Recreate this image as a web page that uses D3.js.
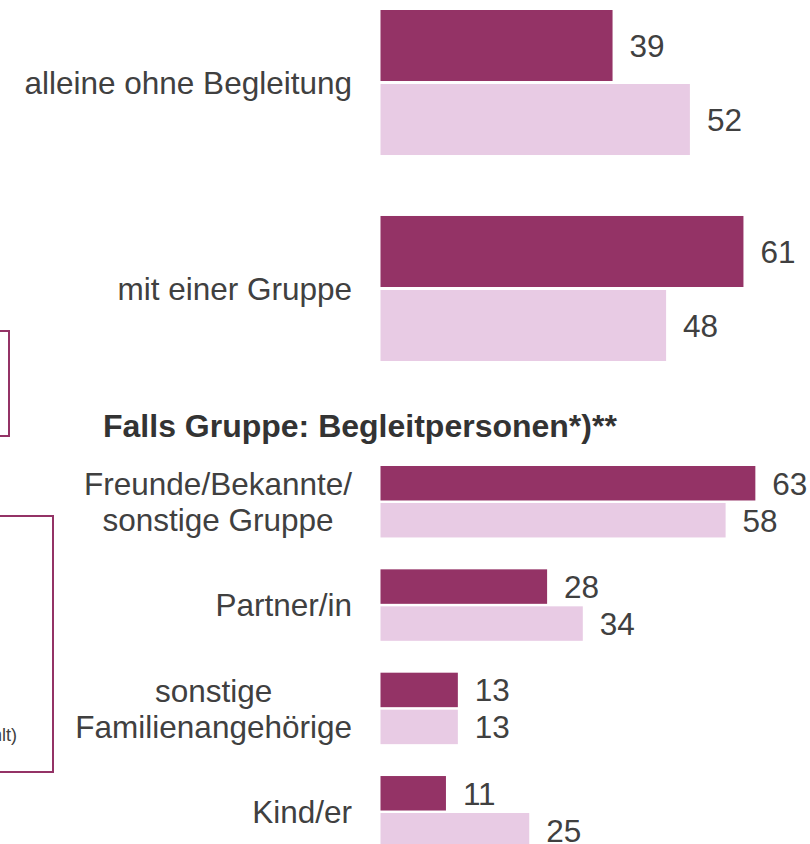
<!DOCTYPE html>
<html>
<head>
<meta charset="utf-8">
<script src="https://cdn.jsdelivr.net/npm/d3@7"></script>
<style>
  html, body { margin: 0; padding: 0; background: #ffffff; }
  svg { display: block; }
  text { font-family: "Liberation Sans", Arial, Helvetica, sans-serif; fill: #404040; }
</style>
</head>
<body>
<svg id="chart" width="810" height="844"></svg>
<script>
// ---- data ----
const seriesKeys = ["serieA", "serieB"];
const topCategories = [["alleine ohne Begleitung"], ["mit einer Gruppe"]];
const topSerieA = [39, 61];
const topSerieB = [52, 48];

const subTitle = "Falls Gruppe: Begleitpersonen*)**";
const bottomCategories = [
  ["Freunde/Bekannte/", "sonstige Gruppe"],
  ["Partner/in"],
  ["sonstige", "Familienangehörige"],
  ["Kind/er"]
];
const bottomSerieA = [63, 28, 13, 11];
const bottomSerieB = [58, 34, 13, 25];

const legendNote = "(Mehrfachnennungen, gezählt)";

// ---- styles ----
const colors = { serieA: "#943366", serieB: "#E8CBE4" };
const fontSize = 31.5;

const svg = d3.select("#chart");

const x = d3.scaleLinear().domain([0, 100]).range([380.5, 380.5 + 595]);

// partial legend boxes cut off at left edge
svg.append("rect").attr("x", -100).attr("y", 331).attr("width", 109).attr("height", 105)
  .attr("fill", "none").attr("stroke", colors.serieA).attr("stroke-width", 2);
svg.append("rect").attr("x", -200).attr("y", 516).attr("width", 253).attr("height", 256)
  .attr("fill", "none").attr("stroke", colors.serieA).attr("stroke-width", 2);
svg.append("text").attr("x", 17).attr("y", 741).attr("text-anchor", "end")
  .style("font-size", "18px").text(legendNote);

function drawSection(cats, a, b, range, pOuter, pInner) {
  const names = cats.map(c => c.join(" "));
  const y = d3.scaleBand().domain(names).range(range).paddingInner(pOuter).paddingOuter(0);
  const ys = d3.scaleBand().domain(seriesKeys).range([0, y.bandwidth()]).paddingInner(pInner);
  const rows = names.map((n, i) => ({ name: n, lines: cats[i], serieA: a[i], serieB: b[i] }));

  const g = svg.append("g");
  const grp = g.selectAll("g.grp").data(rows).join("g")
    .attr("transform", d => `translate(0,${y(d.name)})`);

  grp.selectAll("rect").data(d => seriesKeys.map(k => ({ k, v: d[k] }))).join("rect")
    .attr("x", x(0))
    .attr("y", d => ys(d.k))
    .attr("width", d => x(d.v) - x(0))
    .attr("height", ys.bandwidth())
    .attr("fill", d => colors[d.k]);

  grp.selectAll("text.val").data(d => seriesKeys.map(k => ({ k, v: d[k] }))).join("text")
    .attr("class", "val")
    .attr("x", d => x(d.v) + 17)
    .attr("y", d => ys(d.k) + ys.bandwidth() / 2)
    .attr("dy", "0.36em")
    .style("font-size", fontSize + "px")
    .text(d => d.v);

  // category labels: block right aligned, lines centered within block
  const lineH = 36;
  grp.each(function(d) {
    const gg = d3.select(this);
    const cy = y.bandwidth() / 2;
    const n = d.lines.length;
    const txt = gg.selectAll("text.cat").data(d.lines).join("text")
      .attr("class", "cat")
      .style("font-size", fontSize + "px")
      .attr("y", (l, i) => cy + (i - (n - 1) / 2) * lineH)
      .attr("dy", "0.36em")
      .text(l => l);
    let maxW = 0;
    txt.each(function() { maxW = Math.max(maxW, this.getComputedTextLength()); });
    const right = 352;
    txt.attr("text-anchor", "middle").attr("x", right - maxW / 2);
  });
}

drawSection(topCategories, topSerieA, topSerieB, [10, 361], 0.296, 3 / 74);

svg.append("text").attr("x", 103).attr("y", 437)
  .style("font-size", "32px").style("font-weight", "bold").style("fill", "#333333")
  .text(subTitle);

drawSection(bottomCategories, bottomSerieA, bottomSerieB, [466, 847.5], 0.3085, 2.5 / 37);
</script>
</body>
</html>
